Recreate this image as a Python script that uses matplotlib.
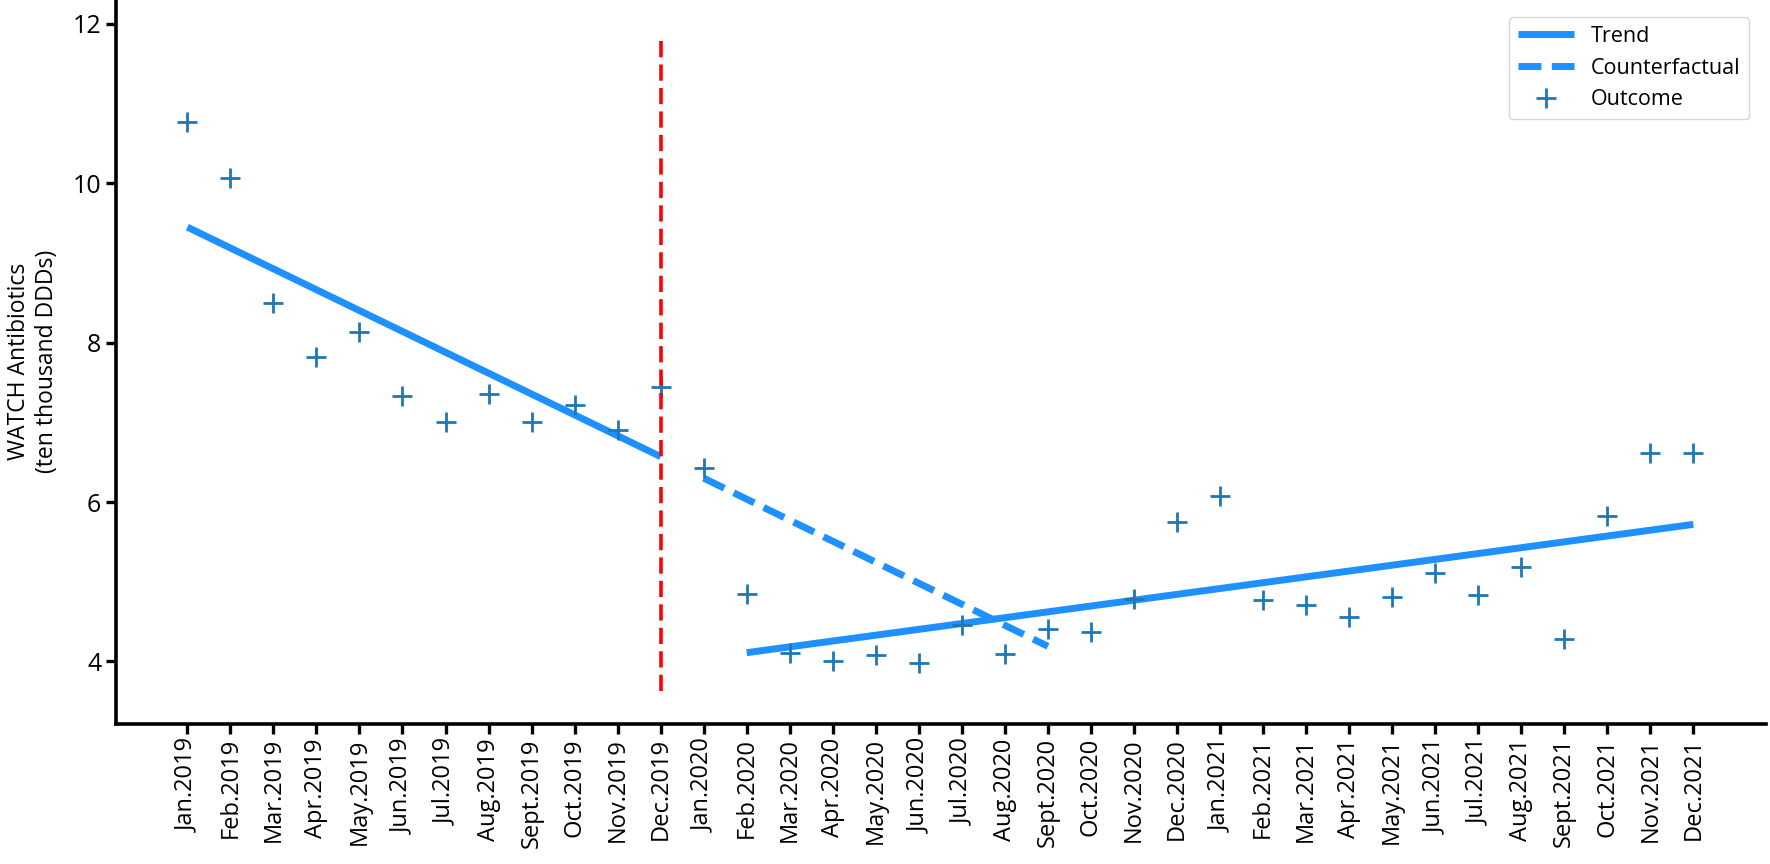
import matplotlib.pyplot as plt
import numpy as np

plt.rcParams['font.family'] = ['Open Sans', 'DejaVu Sans']

# months Jan.2019 .. Dec.2021
months = ['Jan', 'Feb', 'Mar', 'Apr', 'May', 'Jun', 'Jul', 'Aug', 'Sept', 'Oct', 'Nov', 'Dec']
years = ['2019', '2020', '2021']
labels = [m + '.' + y for y in years for m in months]

outcome = [10.77, 10.07, 8.50, 7.82, 8.14, 7.33, 7.01, 7.36, 7.01, 7.22, 6.90, 7.45,
           6.43, 4.84, 4.11, 4.00, 4.08, 3.98, 4.46, 4.09, 4.41, 4.37, 4.78, 5.75,
           6.07, 4.77, 4.71, 4.56, 4.81, 5.11, 4.83, 5.18, 4.28, 5.83, 6.61, 6.61]

# fitted segments (start/end values)
pre_x = [0, 11]
pre_y = [9.45, 6.57]
cf_x = [12, 20]
cf_y = [6.30, 4.19]
post_x = [13, 35]
post_y = [4.11, 5.72]
interv = 11

fig = plt.figure(figsize=(17.7, 8.64), dpi=100)
ax = fig.add_axes([0.0655, 0.1625, 0.9325, 0.8375])

x = np.arange(len(labels))
ax.plot(pre_x, pre_y, color='#1E90FF', lw=5, solid_capstyle='butt', label='Trend')
ax.plot(post_x, post_y, color='#1E90FF', lw=5, solid_capstyle='butt')
ax.plot(cf_x, cf_y, color='#1E90FF', lw=5, dashes=(3.3, 1.5), label='Counterfactual')
ax.plot(x, outcome, '+', color='#1f77b4', ms=15, mew=2, label='Outcome')
ax.plot([interv, interv], [3.63, 11.85], color='red', lw=2.6, dashes=(4.5, 2))

ax.set_xlim(-1.66, 36.7)
ax.set_ylim(3.22, 12.3)
ax.set_xticks(x)
ax.set_xticklabels(labels, rotation=90, fontsize=17)
ax.set_yticks([4, 6, 8, 10, 12])
ax.tick_params(axis='y', labelsize=18)
ax.tick_params(width=2.4, length=7)
ax.set_ylabel('WATCH Antibiotics\n(ten thousand DDDs)', fontsize=16.5, labelpad=10)

for s in ['top', 'right']:
    ax.spines[s].set_visible(False)
for s in ['left', 'bottom']:
    ax.spines[s].set_linewidth(2.6)

ax.legend(loc='upper right', fontsize=15.5, handlelength=2.6, borderaxespad=0.8)

fig.savefig('out.png', dpi=100)
